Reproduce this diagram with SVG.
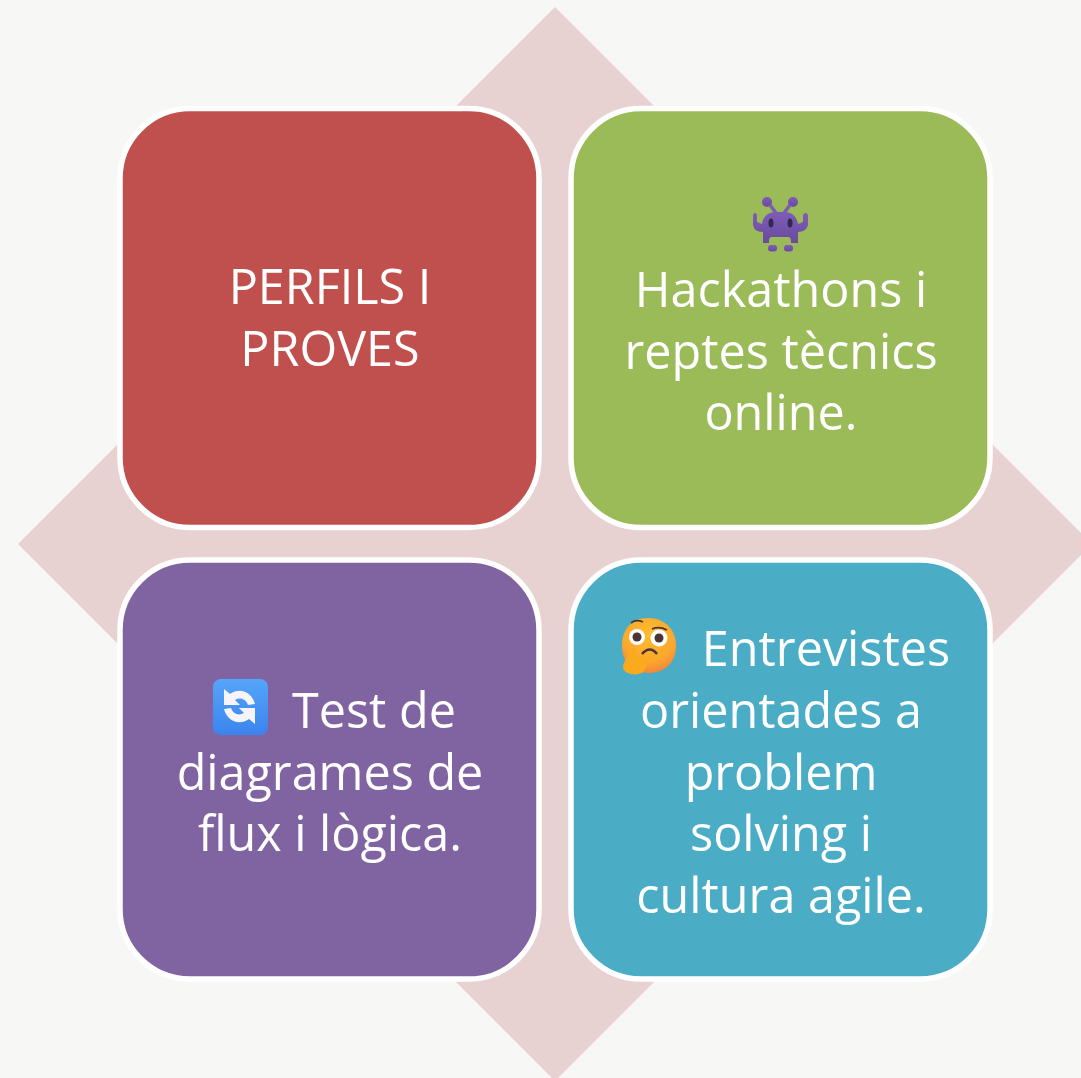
<svg xmlns="http://www.w3.org/2000/svg" width="1081" height="1078" viewBox="0 0 1081 1078">
<style>
.card{stroke:#fff;stroke-width:5.5}
text{font-family:"Open Sans","Noto Sans",sans-serif;font-size:48.5px;fill:#fff;text-anchor:middle}
</style>
<defs>
<linearGradient id="inv" x1="0" y1="0" x2="0" y2="1"><stop offset="0" stop-color="#7d5cb8"/><stop offset="1" stop-color="#6a4b9e"/></linearGradient>
<radialGradient id="face" cx="0.5" cy="0.3" r="0.8"><stop offset="0" stop-color="#ffbb30"/><stop offset="0.6" stop-color="#fba82c"/><stop offset="0.85" stop-color="#f58a38"/><stop offset="1" stop-color="#f4706a"/></radialGradient>
<linearGradient id="blue" x1="0" y1="0" x2="0" y2="1"><stop offset="0" stop-color="#55a5f8"/><stop offset="1" stop-color="#3b84ee"/></linearGradient>
</defs>
<rect width="1081" height="1078" fill="#f7f7f5"/>
<polygon id="diamond" points="555,7 1092,544 555,1081 18,544" fill="#e8d1d1"/>
<g id="node-red">
<rect class="card" x="120" y="108.500" width="419" height="419" rx="70" fill="#c0504d"/>
<text x="330" y="304">PERFILS I</text>
<text x="330" y="366">PROVES</text>
</g>
<g id="node-green">
<rect class="card" x="571" y="108.500" width="419" height="419" rx="70" fill="#9bbb59"/>
<g id="invader" fill="url(#inv)">
<circle cx="767" cy="202" r="5"/><circle cx="793" cy="202" r="5"/>
<path d="M770 205l6 8M790 205l-6 8" stroke="#7d5cb8" stroke-width="3.500" fill="none"/>
<path d="M763 243V232C757 232 753 229 753 224V216C753 212 757 212 757 216V222L762 224C763 216 769 212 775 212H785C791 212 797 216 798 224L803 222V216C803 212 808 212 808 216V224C808 229 803 232 798 232V243H791C791 240 791 237 788 237H772C769 237 769 240 769 243Z"/>
<rect x="768" y="245" width="9" height="6.500" rx="3"/><rect x="784" y="245" width="9" height="6.500" rx="3"/>
<ellipse cx="771" cy="223" rx="2.500" ry="4.500" fill="#33284f"/><ellipse cx="790" cy="223" rx="2.500" ry="4.500" fill="#33284f"/>
</g>
<text x="781" y="307">Hackathons i</text>
<text x="781" y="369">reptes tècnics</text>
<text x="781" y="430">online.</text>
</g>
<g id="node-purple">
<rect class="card" x="120" y="560" width="419" height="419" rx="70" fill="#8064a2"/>
<g id="cycle">
<rect x="213" y="679" width="55" height="56" rx="8" fill="url(#blue)"/>
<path d="M224 689V705H240L235 700C240 697 246 699 248 705L255 704C252 692 240 687 230 694Z" fill="#f8f4fc"/>
<path d="M255 724V708H239L244 713C239 716 233 714 231 708L224 709C227 721 239 726 249 719Z" fill="#f8f4fc"/>
</g>
<text x="374" y="728">Test de</text>
<text x="330" y="790">diagrames de</text>
<text x="330" y="851">flux i lògica.</text>
</g>
<g id="node-blue">
<rect class="card" x="571" y="560" width="419" height="419" rx="70" fill="#4bacc6"/>
<g id="thinking">
<path d="M648 618C666 618 676 631 676 646C676 663 664 673 648 673C631 673 622 661 622 645C622 629 632 618 648 618Z" fill="url(#face)"/>
<circle cx="637" cy="637" r="8" fill="#fff"/><circle cx="659" cy="638" r="8.500" fill="#fff"/>
<circle cx="637" cy="637" r="4.500" fill="#4a3434"/><circle cx="659" cy="638" r="4.500" fill="#4a3434"/>
<path d="M631 623Q636 619 643 622M652 629Q659 626 667 630" stroke="#4a3434" stroke-width="1.800" fill="none"/>
<path d="M642 654Q650 645 657 654" stroke="#4a3434" stroke-width="2.500" fill="none"/>
<path d="M631 649C633 646 636 647 636 650L635 656L650 657C653 658 652 661 650 661L646 662V668L643 672C640 675 632 675 628 673C623 671 622 667 624 663C626 658 630 655 631 649Z" fill="#fbaa1e"/>
</g>
<text x="826" y="666">Entrevistes</text>
<text x="781" y="728">orientades a</text>
<text x="781" y="790">problem</text>
<text x="781" y="851">solving i</text>
<text x="781" y="913">cultura agile.</text>
</g>
<g id="connectors"/>
</svg>
